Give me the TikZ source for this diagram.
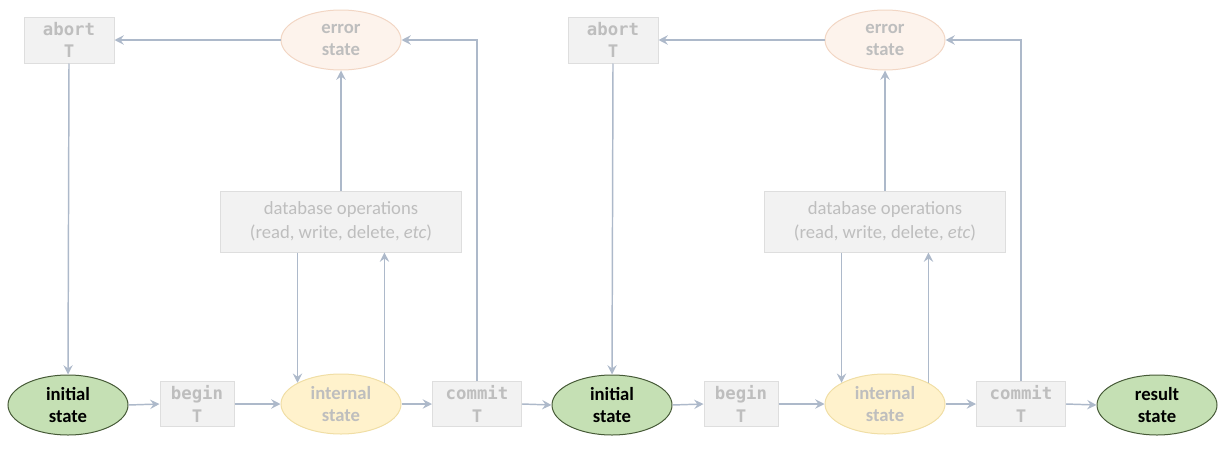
\documentclass[tikz,border=0pt]{standalone}
\usepackage{fontspec}
\setmainfont{Carlito}
\newfontfamily\monob{DejaVu Sans Mono}
\usetikzlibrary{arrows.meta,shapes.geometric,calc}
\definecolor{arrowc}{RGB}{173,185,202}
\definecolor{boxfill}{RGB}{242,242,242}
\definecolor{boxline}{RGB}{222,222,222}
\definecolor{fadetext}{RGB}{190,190,190}
\definecolor{errfill}{RGB}{253,243,236}
\definecolor{errline}{RGB}{242,214,196}
\definecolor{intfill}{RGB}{255,242,204}
\definecolor{intline}{RGB}{240,222,165}
\definecolor{grfill}{RGB}{197,224,180}
\definecolor{grline}{RGB}{70,90,55}
\begin{document}
\begin{tikzpicture}[x=0.75pt,y=-0.75pt,
  opbox/.style={draw=boxline,fill=boxfill,line width=0.75pt,inner sep=0pt,
    text=fadetext,align=center,font=\monob\bfseries\fontsize{13}{17}\selectfont},
  dbbox/.style={draw=boxline,fill=boxfill,line width=0.75pt,inner sep=0pt,
    text=fadetext,align=center,font=\fontsize{14}{18}\selectfont,
    minimum width=241*0.75pt,minimum height=61*0.75pt},
  stateell/.style={ellipse,line width=0.75pt,inner sep=0pt,align=center,
    minimum width=120*0.75pt,minimum height=60*0.75pt,
    font=\bfseries\fontsize{14}{16.5}\selectfont},
  greenst/.style={stateell,draw=grline,fill=grfill,text=black},
  intst/.style={stateell,draw=intline,fill=intfill,text=fadetext},
  errst/.style={stateell,draw=errline,fill=errfill,text=fadetext},
  arr/.style={draw=arrowc,line width=1.1pt,-{Stealth[length=7pt,width=7pt,inset=2.5pt]}},
]
\useasboundingbox (0,0) rectangle (1230,464);

% left half
\node[opbox,minimum width=90*0.75pt,minimum height=46*0.75pt] (abortA) at (69,40) {abort\\T};
\node[errst] (errA) at (341,40) {error\\state};
\node[dbbox] (dbA) at (341,221.5) {database operations\\(read, write, delete, \textit{etc})};
\node[greenst] (initA) at (68,405) {initial\\state};
\node[opbox,minimum width=74*0.75pt,minimum height=45*0.75pt] (beginA) at (197,404) {begin\\T};
\node[intst] (intA) at (341,404) {internal\\state};
\node[opbox,minimum width=89*0.75pt,minimum height=45*0.75pt] (commitA) at (477,404) {commit\\T};

% right half
\node[opbox,minimum width=90*0.75pt,minimum height=46*0.75pt] (abortB) at (613,40) {abort\\T};
\node[errst] (errB) at (885,40) {error\\state};
\node[dbbox] (dbB) at (885,221.5) {database operations\\(read, write, delete, \textit{etc})};
\node[greenst] (initB) at (612,405) {initial\\state};
\node[opbox,minimum width=74*0.75pt,minimum height=45*0.75pt] (beginB) at (741,404) {begin\\T};
\node[intst] (intB) at (885,404) {internal\\state};
\node[opbox,minimum width=89*0.75pt,minimum height=45*0.75pt] (commitB) at (1021,404) {commit\\T};
\node[greenst] (result) at (1157,405) {result\\state};

% connectors left
\draw[arr] (errA.west) -- (abortA.east);
\draw[arr] (abortA.south) -- (initA.north);
\draw[arr] (dbA.north) -- (errA.south);
\draw[arr] (commitA.north) |- (errA.east);
\draw[arr] (dbA.south -| intA.154) -- (intA.154);
\draw[arr] (intA.26) -- (intA.26 |- dbA.south);
\draw[arr] (initA.east) -- (beginA.west);
\draw[arr] (beginA.east) -- (intA.west);
\draw[arr] (intA.east) -- (commitA.west);
\draw[arr] (commitA.east) -- (initB.west);

% connectors right
\draw[arr] (errB.west) -- (abortB.east);
\draw[arr] (abortB.south) -- (initB.north);
\draw[arr] (dbB.north) -- (errB.south);
\draw[arr] (commitB.north) |- (errB.east);
\draw[arr] (dbB.south -| intB.154) -- (intB.154);
\draw[arr] (intB.26) -- (intB.26 |- dbB.south);
\draw[arr] (initB.east) -- (beginB.west);
\draw[arr] (beginB.east) -- (intB.west);
\draw[arr] (intB.east) -- (commitB.west);
\draw[arr] (commitB.east) -- (result.west);
\end{tikzpicture}
\end{document}
